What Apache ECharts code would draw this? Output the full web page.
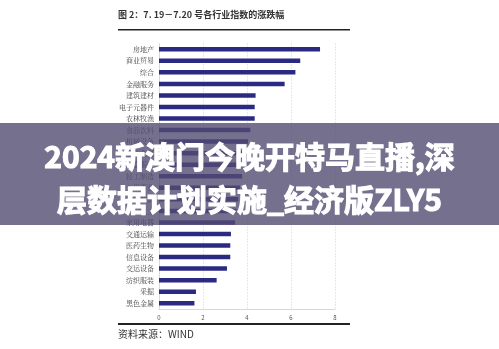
<!DOCTYPE html>
<html><head><meta charset="utf-8">
<script src="https://cdn.jsdelivr.net/npm/echarts@6/dist/echarts.min.js"></script>
<style>html,body{margin:0;padding:0;background:#fff}#c{width:499px;height:349px}</style>
</head><body><div id="c"></div>
<script>
var categories = ['房地产','商业贸易','综合','金融服务','建筑建材','电子元器件','农林牧渔','食品饮料','机械设备','有色金属','信息服务','轻工制造','公用事业','餐饮旅游','化工','家用电器','交通运输','医药生物','信息设备','交运设备','纺织服装','采掘','黑色金属'];
var values = [7.32,6.42,6.2,5.71,4.39,4.35,4.35,4.15,4.05,3.95,3.85,3.78,3.68,3.6,3.52,3.46,3.27,3.24,3.24,3.09,2.62,1.68,1.61];
var xTicks = [0,2,4,6,8];
var titleText = '图 2：7. 19－7.20 号各行业指数的涨跌幅';
var sourceText = '资料来源：WIND';
var overlayLines = ['2024新澳门今晚开特马直播,深','层数据计划实施_经济版ZLY5'];

var chart = echarts.init(document.getElementById('c'));
var cjk = '"Noto Sans CJK SC", sans-serif';
chart.setOption({
  animation:false,
  backgroundColor:'#fff',
  grid:{left:159, right:164, top:43.5, bottom:40, containLabel:false},
  xAxis:{type:'value', min:xTicks[0], max:xTicks[xTicks.length-1], interval:2,
    axisLine:{show:true, lineStyle:{color:'#d8d8d8', width:1}},
    axisTick:{show:false},
    axisLabel:{fontSize:6, color:'#555', margin:6, fontFamily:cjk},
    splitLine:{show:true, lineStyle:{color:'#d0d0d0', type:[1,2], width:1}}},
  yAxis:{type:'category', data:categories, inverse:true,
    axisLine:{show:true, lineStyle:{color:'#d8d8d8'}},
    axisTick:{show:false},
    axisLabel:{fontSize:7, color:'#444', margin:5, fontFamily:'"Noto Serif CJK SC","Noto Sans CJK SC",serif'}},
  series:[{type:'bar', data:values, barWidth:4.5, itemStyle:{color:'#2a2a82'}}],
  graphic:[
    {type:'text', left:118, top:10, z:10, style:{text:titleText, fontSize:9, fontWeight:'bold', fill:'#333', fontFamily:cjk}},
    {type:'rect', shape:{x:118, y:29, width:232, height:1.5}, z:10, style:{fill:'#222'}},
    {type:'rect', shape:{x:118, y:323, width:232, height:2}, z:10, style:{fill:'#222'}},
    {type:'text', left:118, top:329, z:10, style:{text:sourceText, fontSize:10, fill:'#333', fontFamily:cjk}},
    {type:'rect', shape:{x:0, y:123, width:499, height:102}, z:100, style:{fill:'rgba(84,76,115,0.8)'}},
    {type:'text', x:249.5, y:157, z:101, style:{text:overlayLines[0], fontSize:30, fontWeight:'bold', fill:'#fff', stroke:'#fff', lineWidth:1.2, align:'center', verticalAlign:'middle', fontFamily:cjk}},
    {type:'text', x:249.5, y:200, z:101, style:{text:overlayLines[1], fontSize:30, fontWeight:'bold', fill:'#fff', stroke:'#fff', lineWidth:1.2, align:'center', verticalAlign:'middle', fontFamily:cjk}}
  ]
});
</script></body></html>
